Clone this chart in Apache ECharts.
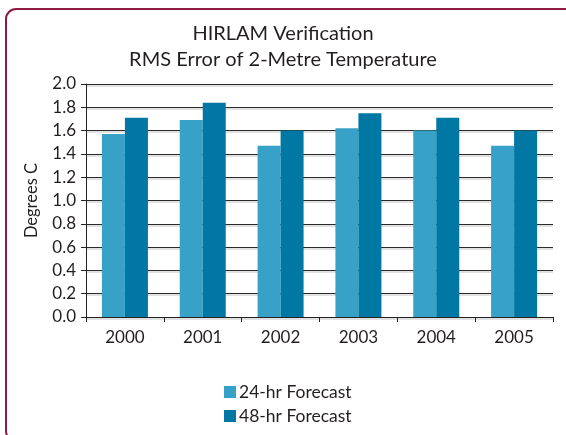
<!DOCTYPE html>
<html>
<head>
<meta charset="utf-8">
<script src="https://cdn.jsdelivr.net/npm/echarts@6/dist/echarts.min.js"></script>
<style>
  html, body { margin: 0; padding: 0; background: #fff; }
  #chart { width: 566px; height: 435px; }
</style>
</head>
<body>
<div id="chart"></div>
<script>
  // years along the x axis
  var years = ['2000', '2001', '2002', '2003', '2004', '2005'];
  // RMS error, degrees C
  var forecast24 = [1.57, 1.69, 1.47, 1.62, 1.60, 1.47];
  var forecast48 = [1.71, 1.84, 1.60, 1.75, 1.71, 1.60];

  var font = 'Lato, "Open Sans", sans-serif';
  var chart = echarts.init(document.getElementById('chart'));
  chart.setOption({
    animation: false,
    textStyle: { fontFamily: font },
    graphic: [{
      type: 'rect',
      shape: { x: 6, y: 9, width: 600, height: 432, r: 10 },
      style: { fill: 'none', stroke: '#8e1b3f', lineWidth: 2 },
      silent: true
    }],
    title: {
      text: 'HIRLAM Verification\nRMS Error of 2-Metre Temperature',
      left: 'center',
      top: 16,
      textStyle: {
        fontFamily: font,
        fontWeight: 'normal',
        fontSize: 20,
        lineHeight: 26,
        color: '#231f20'
      }
    },
    legend: {
      orient: 'vertical',
      left: 219,
      top: 378,
      height: 52,
      itemWidth: 12,
      itemHeight: 12,
      itemGap: 6,
      icon: 'rect',
      textStyle: {
        fontFamily: font,
        fontSize: 17.5,
        lineHeight: 18,
        color: '#231f20',
        padding: [0, 0, 0, -2]
      },
      data: ['24-hr Forecast', '48-hr Forecast']
    },
    grid: {
      left: 86,
      right: 13,
      top: 84,
      bottom: 118
    },
    xAxis: {
      type: 'category',
      data: years,
      axisLine: { lineStyle: { color: '#222', width: 1 } },
      axisTick: { show: true, length: 5, lineStyle: { color: '#222' } },
      axisLabel: { fontFamily: font, fontSize: 17, color: '#231f20', margin: 12 }
    },
    yAxis: {
      type: 'value',
      min: 0,
      max: 2,
      interval: 0.2,
      name: 'Degrees C',
      nameLocation: 'middle',
      nameGap: 46,
      nameTextStyle: { fontFamily: font, fontSize: 16.5, color: '#231f20' },
      axisLine: { show: true, lineStyle: { color: '#222' } },
      axisTick: { show: true, length: 5, lineStyle: { color: '#222' } },
      axisLabel: {
        fontFamily: font,
        fontSize: 17,
        color: '#231f20',
        margin: 10,
        formatter: function (v) { return v.toFixed(1); }
      },
      splitLine: {
        lineStyle: {
          color: '#2a2a2a',
          width: 1,
          shadowColor: '#c4c4c4',
          shadowOffsetY: 1.5,
          shadowBlur: 0
        }
      }
    },
    series: [
      {
        name: '24-hr Forecast',
        type: 'bar',
        data: forecast24,
        barWidth: 23,
        barGap: '0%',
        itemStyle: { color: '#38a1c8' }
      },
      {
        name: '48-hr Forecast',
        type: 'bar',
        data: forecast48,
        barWidth: 23,
        barGap: '0%',
        itemStyle: { color: '#0177a3' }
      }
    ]
  });
</script>
</body>
</html>
